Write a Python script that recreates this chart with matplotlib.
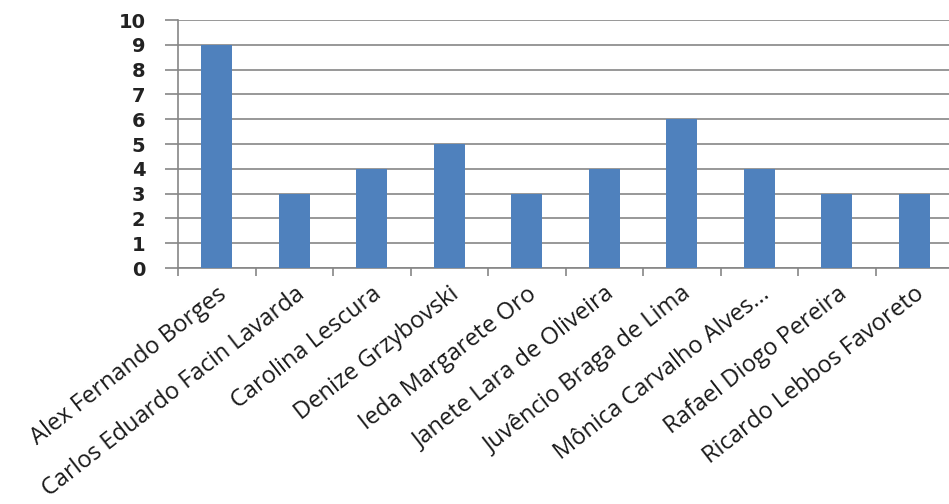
import matplotlib.pyplot as plt
import matplotlib

matplotlib.rcParams['font.family'] = ['Open Sans', 'DejaVu Sans']

nomes = ['Alex Fernando Borges', 'Carlos Eduardo Facin Lavarda', 'Carolina Lescura',
         'Denize Grzybovski', 'Ieda Margarete Oro', 'Janete Lara de Oliveira',
         'Juvêncio Braga de Lima', 'Mônica Carvalho Alves...', 'Rafael Diogo Pereira',
         'Ricardo Lebbos Favoreto']
valores = [9, 3, 4, 5, 3, 4, 6, 4, 3, 3]

fig = plt.figure(figsize=(9.49, 5.04), dpi=100)
ax = fig.add_axes([178 / 949, 1 - 268 / 504, 775 / 949, 248 / 504])

x = range(len(nomes))
ax.bar(x, valores, width=0.4, color='#4F81BD', zorder=3)
ax.set_xlim(-0.5, len(nomes) - 0.5)
ax.set_ylim(0, 10)
ax.set_yticks(range(0, 11))
ax.yaxis.grid(True, color='#868686', linewidth=1.2, zorder=0)

ax.set_xticks([i + 0.5 for i in range(-1, len(nomes))], minor=False)
ax.set_xticklabels([])
ax.set_xticks(list(x), minor=True)
ax.set_xticklabels(nomes, minor=True, rotation=38, ha='right', rotation_mode='anchor',
                   fontsize=17, color='#1a1a1a')
ax.tick_params(axis='x', which='minor', length=0, pad=10)
ax.tick_params(axis='x', which='major', length=6, width=1.2, color='#868686', direction='out')
ax.tick_params(axis='y', length=9.5, width=1.2, color='#868686', pad=14)
for rot in ax.get_yticklabels():
    rot.set_fontfamily('DejaVu Sans')
    rot.set_fontsize(14)
    rot.set_fontweight('bold')
    rot.set_color('#222222')

for lado in ['top', 'right']:
    ax.spines[lado].set_visible(False)
for lado in ['left', 'bottom']:
    ax.spines[lado].set_color('#868686')
    ax.spines[lado].set_linewidth(1.2)

fig.savefig('out.png', dpi=100)
